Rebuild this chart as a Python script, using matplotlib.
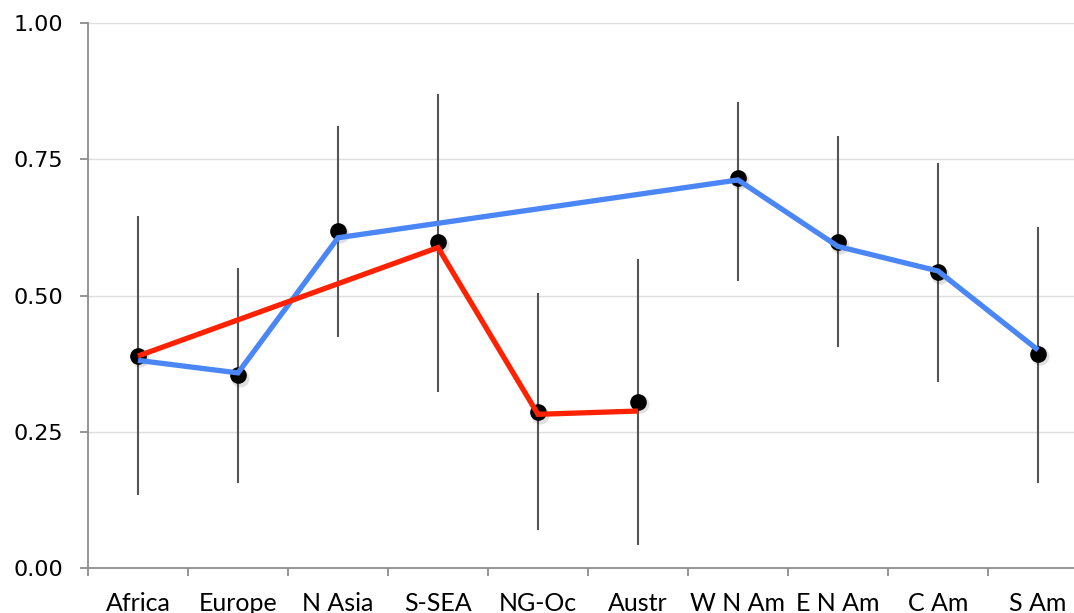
import matplotlib
matplotlib.use("Agg")
import matplotlib.pyplot as plt
import matplotlib.transforms as mtransforms
import numpy as np

regions = ["Africa", "Europe", "N Asia", "S-SEA", "NG-Oc", "Austr",
           "W N Am", "E N Am", "C Am", "S Am"]

# point estimates with lower / upper interval bounds
estimate = [0.389, 0.354, 0.618, 0.598, 0.286, 0.305, 0.716, 0.598, 0.543, 0.393]
lower = [0.134, 0.156, 0.424, 0.323, 0.070, 0.042, 0.527, 0.406, 0.341, 0.156]
upper = [0.646, 0.550, 0.811, 0.870, 0.505, 0.567, 0.855, 0.793, 0.743, 0.626]

# fitted paths
blue_regions = ["Africa", "Europe", "N Asia", "W N Am", "E N Am", "C Am", "S Am"]
blue_values = [0.381, 0.358, 0.606, 0.712, 0.590, 0.545, 0.400]
red_regions = ["Africa", "S-SEA", "NG-Oc", "Austr"]
red_values = [0.389, 0.588, 0.282, 0.288]

y_ticks = [0.0, 0.25, 0.5, 0.75, 1.0]
y_tick_labels = ["0.00", "0.25", "0.50", "0.75", "1.00"]

fig = plt.figure(figsize=(10.74, 6.13), dpi=100)
ax = fig.add_axes([88 / 1074, 45 / 613, 1000 / 1074, 545 / 613])

x = np.arange(len(regions))
pos = {r: i for i, r in enumerate(regions)}

# horizontal gridlines
for t in y_ticks[1:]:
    ax.axhline(t, color="#dedede", lw=1.0, zorder=0)

# interval bars
ax.vlines(x, lower, upper, color="#555555", lw=1.5, zorder=2)

# soft shadow under the markers
shadow = mtransforms.offset_copy(ax.transData, fig=fig, x=1.2, y=-1.8, units="points")
ax.plot(x, estimate, "o", ms=13, color="#000000", alpha=0.12, mec="none",
        transform=shadow, zorder=2.5)
ax.plot(x, estimate, "o", ms=12, color="black", mec="none", zorder=3)

# connecting lines
ax.plot([pos[r] for r in blue_regions], blue_values, color="#4a86f5", lw=3.8,
        solid_capstyle="butt", solid_joinstyle="miter", zorder=4)
ax.plot([pos[r] for r in red_regions], red_values, color="#ff2200", lw=3.8,
        solid_capstyle="butt", solid_joinstyle="miter", zorder=4)

ax.set_xlim(-0.5, len(regions) - 0.5)
ax.set_ylim(0, 1.0)

for side in ("top", "right"):
    ax.spines[side].set_visible(False)
for side in ("left", "bottom"):
    ax.spines[side].set_color("#8c8c8c")
    ax.spines[side].set_linewidth(1.3)

ax.set_yticks(y_ticks)
ax.set_yticklabels(y_tick_labels)
ax.tick_params(axis="y", direction="out", length=6, width=1.3, color="#8c8c8c",
               pad=12, labelcolor="black", labelsize=16)
for lbl in ax.get_yticklabels():
    lbl.set_fontfamily("DejaVu Sans")

# category boundaries as ticks, labels centred between them
ax.set_xticks(np.arange(-0.5, len(regions), 1.0))
ax.set_xticklabels([])
ax.set_xticks(x, minor=True)
ax.set_xticklabels(regions, minor=True)
ax.tick_params(axis="x", which="major", direction="out", length=6, width=1.3,
               color="#8c8c8c")
ax.tick_params(axis="x", which="minor", length=0, pad=17, labelcolor="black",
               labelsize=18)
for lbl in ax.get_xticklabels(minor=True):
    lbl.set_fontfamily("Lato")

fig.savefig("out.png", dpi=100)
